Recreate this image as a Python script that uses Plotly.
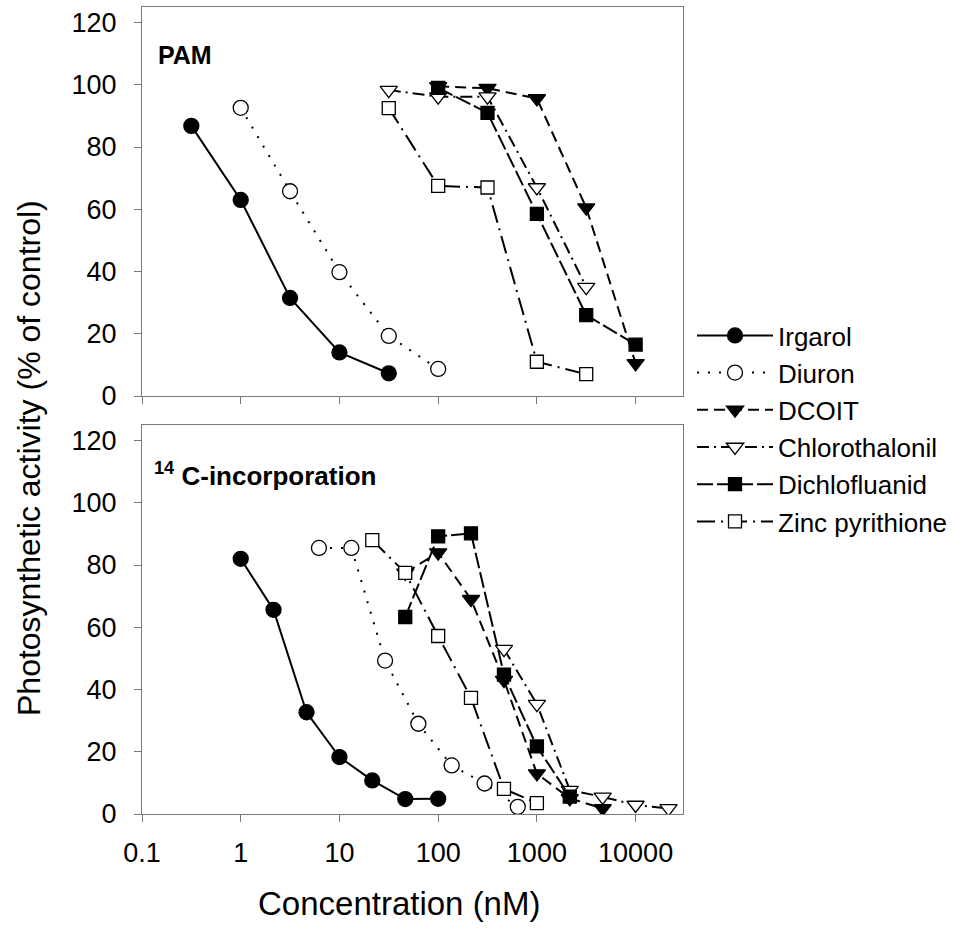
import plotly.graph_objects as go
from plotly.subplots import make_subplots

# ---------------- data ----------------
series_names = ["Irgarol", "Diuron", "DCOIT", "Chlorothalonil", "Dichlofluanid", "Zinc pyrithione"]

# PAM panel (top)
pam_irgarol_x = [0.316, 1, 3.16, 10, 31.6]
pam_irgarol_y = [86.8, 63.0, 31.5, 14.0, 7.3]
pam_diuron_x = [1, 3.16, 10, 31.6, 100]
pam_diuron_y = [92.6, 65.8, 39.8, 19.3, 8.7]
pam_dcoit_x = [100, 316, 1000, 3160, 10000]
pam_dcoit_y = [99.5, 98.9, 95.6, 60.5, 10.5]
pam_chloro_x = [31.6, 100, 316, 1000, 3160]
pam_chloro_y = [98.3, 96.2, 96.2, 67.0, 35.0]
pam_dichlo_x = [100, 316, 1000, 3160, 10000]
pam_dichlo_y = [99.0, 91.0, 58.5, 26.0, 16.5]
pam_zinc_x = [31.6, 100, 316, 1000, 3160]
pam_zinc_y = [92.5, 67.5, 67.0, 11.0, 7.0]

# 14C-incorporation panel (bottom)
c14_irgarol_x = [1, 2.15, 4.64, 10, 21.5, 46.4, 100]
c14_irgarol_y = [82.0, 65.6, 32.7, 18.3, 10.8, 4.8, 4.9]
c14_diuron_x = [6.2, 13.2, 29, 63, 137, 295, 640]
c14_diuron_y = [85.5, 85.5, 49.3, 29.0, 15.6, 9.8, 2.3]
c14_dcoit_x = [46.4, 100, 215, 464, 1000, 2154, 4640]
c14_dcoit_y = [77.5, 84.0, 69.0, 43.0, 13.0, 5.0, 1.8]
c14_chloro_x = [464, 1000, 2154, 4640, 10000, 21544]
c14_chloro_y = [53.0, 35.3, 7.7, 5.5, 2.9, 1.8]
c14_dichlo_x = [46.4, 100, 215, 464, 1000, 2154]
c14_dichlo_y = [63.3, 89.2, 90.2, 44.8, 21.7, 5.6]
c14_zinc_x = [21.5, 46.4, 100, 215, 464, 1000]
c14_zinc_y = [88.0, 77.5, 57.2, 37.3, 8.1, 3.5]

pam_control_band = [97, 103]
c14_control_band = [80, 120]

x_tick_vals = [0.1, 1, 10, 100, 1000, 10000]
x_tick_text = ["0.1", "1", "10", "100", "1000", "10000"]
y_tick_vals = [0, 20, 40, 60, 80, 100, 120]

# ---------------- styles ----------------
styles = {
    "Irgarol": dict(symbol="circle", fill="black", dash="solid", size=15),
    "Diuron": dict(symbol="circle", fill="white", dash="2px,9px", size=15),
    "DCOIT": dict(symbol="triangle-down", fill="black", dash="11px,6px", size=15),
    "Chlorothalonil": dict(symbol="triangle-down", fill="white", dash="12px,5px,2px,5px", size=15),
    "Dichlofluanid": dict(symbol="square", fill="black", dash="16px,4px", size=13),
    "Zinc pyrithione": dict(symbol="square", fill="white", dash="18px,6px,2px,6px", size=13),
}

pam_data = {
    "Irgarol": (pam_irgarol_x, pam_irgarol_y),
    "Diuron": (pam_diuron_x, pam_diuron_y),
    "DCOIT": (pam_dcoit_x, pam_dcoit_y),
    "Chlorothalonil": (pam_chloro_x, pam_chloro_y),
    "Dichlofluanid": (pam_dichlo_x, pam_dichlo_y),
    "Zinc pyrithione": (pam_zinc_x, pam_zinc_y),
}
c14_data = {
    "Irgarol": (c14_irgarol_x, c14_irgarol_y),
    "Diuron": (c14_diuron_x, c14_diuron_y),
    "DCOIT": (c14_dcoit_x, c14_dcoit_y),
    "Chlorothalonil": (c14_chloro_x, c14_chloro_y),
    "Dichlofluanid": (c14_dichlo_x, c14_dichlo_y),
    "Zinc pyrithione": (c14_zinc_x, c14_zinc_y),
}

FONT = "Liberation Sans, Arial, sans-serif"
AXIS_GRAY = "#7a7a7a"

W, H = 954, 931
ML, MR, MT, MB = 142, 271, 7, 117
PW = W - ML - MR
PH = H - MT - MB

fig = make_subplots(rows=2, cols=1, shared_xaxes=False, vertical_spacing=29 / PH)


def add_marker_traces(data, row, showlegend):
    for name in series_names:
        x, y = data[name]
        st = styles[name]
        fig.add_trace(
            go.Scatter(
                x=x, y=y, name=name, mode="lines+markers",
                legendgroup=name, showlegend=showlegend,
                line=dict(color="black", width=2, dash=st["dash"]),
                marker=dict(symbol=st["symbol"], size=st["size"], color=st["fill"],
                            line=dict(color="black", width=1.3)),
            ),
            row=row, col=1,
        )


# control bands as dashed horizontal lines
for row, band in ((1, pam_control_band), (2, c14_control_band)):
    for yv in band:
        fig.add_hline(y=yv, line=dict(color="#6e6e6e", width=1.6, dash="16px,8px"), row=row, col=1)

add_marker_traces(pam_data, 1, True)
add_marker_traces(c14_data, 2, False)

axis_common = dict(
    showline=True, linecolor=AXIS_GRAY, linewidth=1.3, mirror=True,
    ticks="outside", ticklen=7, tickcolor=AXIS_GRAY, tickwidth=1.3,
    showgrid=False, zeroline=False,
    tickfont=dict(family=FONT, size=27, color="black"),
)

for r in (1, 2):
    fig.update_xaxes(type="log", range=[-1, 4.48], tickvals=x_tick_vals, ticktext=x_tick_text,
                     showticklabels=(r == 2), ticklabelstandoff=7, row=r, col=1, **axis_common)
    fig.update_yaxes(range=[0, 125], tickvals=y_tick_vals, ticklabelstandoff=12, row=r, col=1, **axis_common)


def px_x(px):
    return (px - ML) / PW


def px_y(py):
    return (H - MB - py) / PH


annotations = [
    dict(text="<b>PAM</b>", x=px_x(156), y=px_y(55), xanchor="left", yanchor="middle",
         font=dict(family=FONT, size=25, color="black")),
    dict(text="<b><sup>14</sup> C-incorporation</b>", x=px_x(152), y=px_y(474), xanchor="left", yanchor="middle",
         font=dict(family=FONT, size=26, color="black")),
    dict(text="Photosynthetic activity (% of control)", x=px_x(29), y=px_y(458), textangle=-90,
         xanchor="center", yanchor="middle", font=dict(family=FONT, size=32, color="black")),
    dict(text="Concentration (nM)", x=px_x(399), y=px_y(904), xanchor="center", yanchor="middle",
         font=dict(family=FONT, size=33, color="black")),
]
for a in annotations:
    a.update(xref="paper", yref="paper", showarrow=False)

fig.update_layout(
    width=W, height=H,
    margin=dict(l=ML, r=MR, t=MT, b=MB, pad=0, autoexpand=False),
    paper_bgcolor="white", plot_bgcolor="white",
    font=dict(family=FONT, color="black"),
    annotations=annotations,
    legend=dict(
        x=px_x(692), y=px_y(312), xanchor="left", yanchor="top",
        font=dict(family=FONT, size=26, color="black"),
        bgcolor="rgba(0,0,0,0)", borderwidth=0, tracegroupgap=0.4, itemwidth=76,
    ),
)

fig.write_html("out.html")
